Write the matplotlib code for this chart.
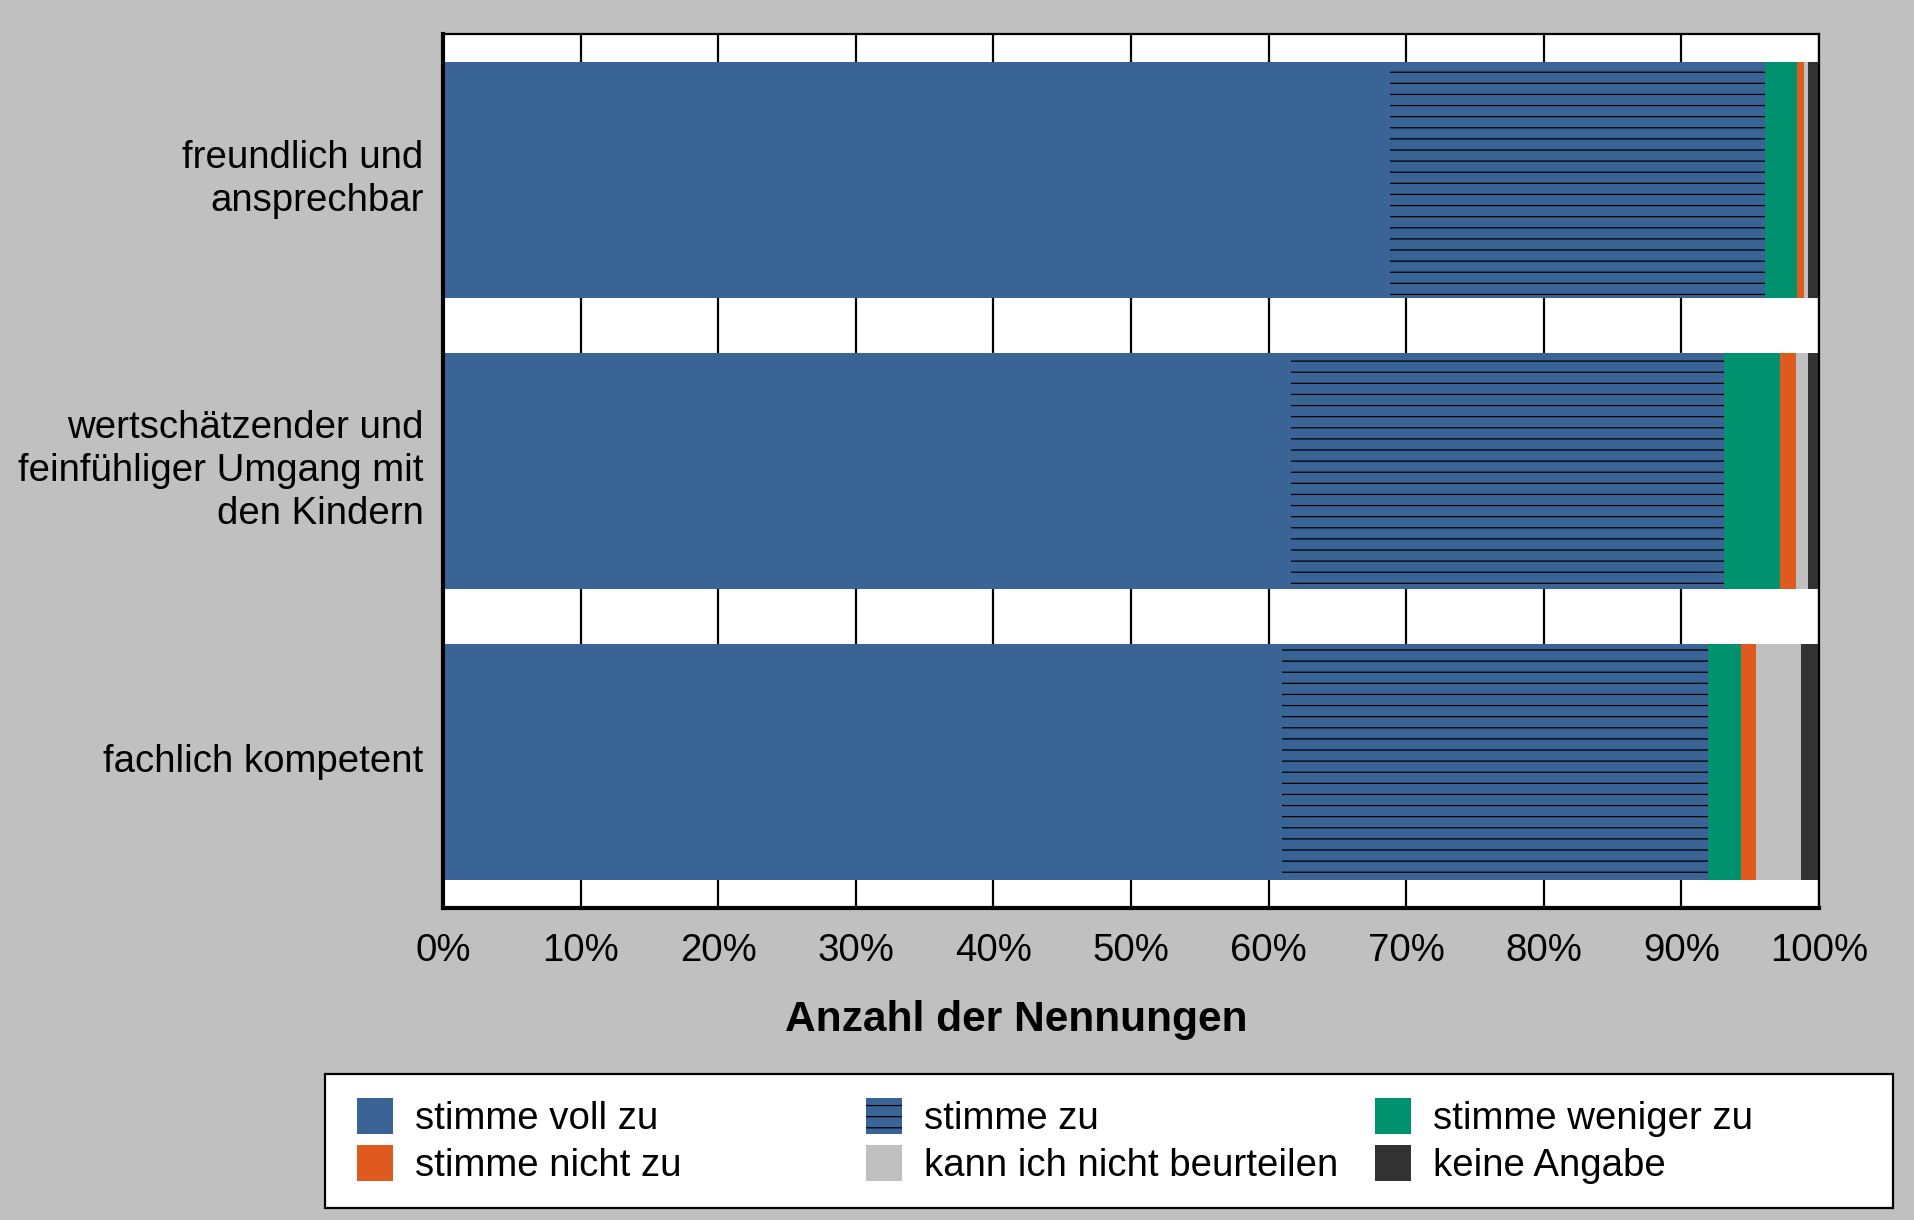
import numpy as np
import matplotlib
matplotlib.use('Agg')
import matplotlib.pyplot as plt
from matplotlib.patches import Rectangle

# Werte in Prozent, von oben nach unten
kategorien = ['freundlich und\nansprechbar',
              'wertschätzender und\nfeinfühliger Umgang mit\nden Kindern',
              'fachlich kompetent']
voll_zu = [68.8, 61.6, 61.0]
zu = [27.3, 31.5, 30.9]
weniger_zu = [2.3, 4.1, 2.4]
nicht_zu = [0.5, 1.1, 1.1]
kann_nicht = [0.3, 0.9, 3.3]
keine_angabe = [0.8, 0.8, 1.3]
x_ticks = [0, 10, 20, 30, 40, 50, 60, 70, 80, 90, 100]

plt.rcParams['font.family'] = ['Liberation Sans', 'DejaVu Sans']
plt.rcParams['hatch.linewidth'] = 0.45
plt.rcParams['hatch.color'] = 'black'

fs = 13.8
W, H = 1915, 1220
fig = plt.figure(figsize=(9.575, 6.1), dpi=200, facecolor='#c0c0c0')
ax = fig.add_axes([443 / W, 1 - 908 / H, (1819 - 443) / W, (908 - 34) / H])
ax.set_facecolor('white')

serien = [
    ('stimme voll zu', voll_zu, '#3a6496', None),
    ('stimme zu', zu, '#3a6496', '---'),
    ('stimme weniger zu', weniger_zu, '#00916e', None),
    ('stimme nicht zu', nicht_zu, '#df5a1f', None),
    ('kann ich nicht beurteilen', kann_nicht, '#c0c0c0', None),
    ('keine Angabe', keine_angabe, '#333333', None),
]

y = np.arange(len(kategorien))
links = np.zeros(len(kategorien))
handles = {}
for name, werte, farbe, hatch in serien:
    b = ax.barh(y, werte, left=links, height=0.81, color=farbe,
                edgecolor='black' if hatch else farbe, linewidth=0,
                hatch=hatch, zorder=2, label=name)
    handles[name] = b
    links += np.array(werte)

ax.set_xlim(0, 100)
ax.set_ylim(2.5, -0.5)
ax.set_xticks(x_ticks)
ax.set_xticklabels([f'{t}%' for t in x_ticks], fontsize=fs)
ax.set_yticks(y)
ax.set_yticklabels(kategorien, fontsize=fs, linespacing=1.26)
for lab in ax.get_yticklabels():
    lab.set_va('center')
ax.tick_params(axis='both', length=0)
ax.tick_params(axis='x', pad=9)
ax.tick_params(axis='y', pad=7)
ax.grid(axis='x', color='black', linewidth=0.8, zorder=1)
ax.set_axisbelow(True)
for s in ['top', 'right']:
    ax.spines[s].set_linewidth(0.8)
for s in ['left', 'bottom']:
    ax.spines[s].set_linewidth(1.5)

fig.text(1016 / W, 1 - 1020 / H, 'Anzahl der Nennungen', fontsize=15.3,
         fontweight='bold', ha='center', va='center')

# Legende: Rahmen + drei Spalten
fig.add_artist(Rectangle((325 / W, 1 - 1208 / H), (1893 - 325) / W, (1208 - 1073.5) / H,
                         transform=fig.transFigure, facecolor='white',
                         edgecolor='black', linewidth=0.8, zorder=0))
spalten = [['stimme voll zu', 'stimme nicht zu'],
           ['stimme zu', 'kann ich nicht beurteilen'],
           ['stimme weniger zu', 'keine Angabe']]
spalten_x = [356.6, 866, 1375]
for namen, sx in zip(spalten, spalten_x):
    fig.legend([handles[n] for n in namen], namen, loc='upper left',
               bbox_to_anchor=(sx / W, 1 - 1098 / H), borderaxespad=0,
               borderpad=0, frameon=False, fontsize=fs,
               handlelength=0.94, handleheight=1.07, handletextpad=0.58,
               labelspacing=0.21)

fig.savefig('out.png', dpi=200, facecolor=fig.get_facecolor())
